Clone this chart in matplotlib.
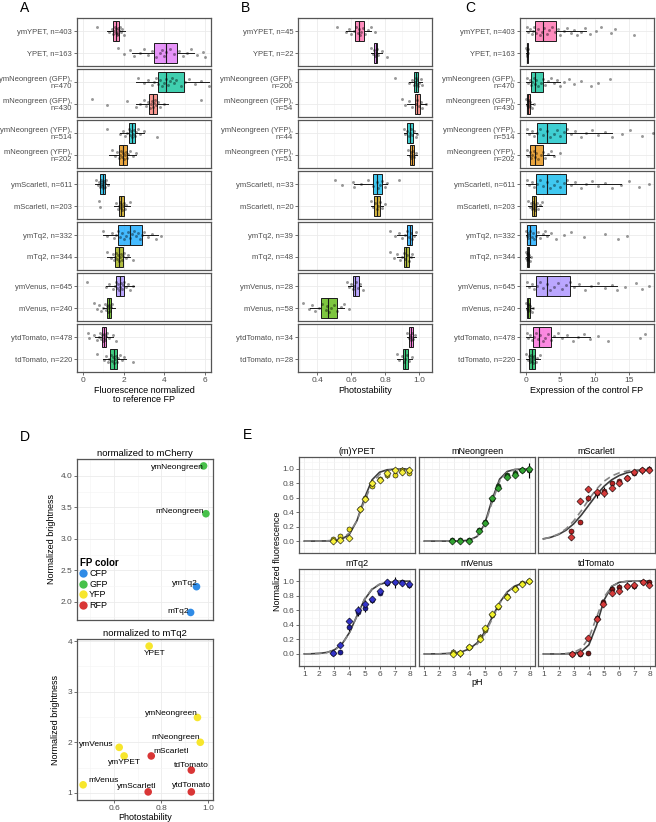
import matplotlib.pyplot as plt
import matplotlib.lines as mlines
from matplotlib.colors import to_rgba
import numpy as np

plt.rcParams['font.family'] = ['Liberation Sans', 'DejaVu Sans']

# ── Panels A-C: constructs, top to bottom ───────────────────────────────────
names = ['ymYPET', 'YPET', 'ymNeongreen (GFP)', 'mNeongreen (GFP)',
         'ymNeongreen (YFP)', 'mNeongreen (YFP)', 'ymScarletI', 'mScarletI',
         'ymTq2', 'mTq2', 'ymVenus', 'mVenus', 'ytdTomato', 'tdTomato']
n_cells_a = [403, 163, 470, 430, 514, 202, 611, 203, 332, 344, 645, 240, 478, 220]
n_cells_b = [45, 22, 206, 54, 44, 51, 33, 20, 39, 48, 28, 58, 34, 28]
n_cells_c = [403, 163, 470, 430, 514, 202, 611, 203, 332, 344, 645, 240, 478, 220]

# A: fluorescence normalized to reference FP (whislo, q1, med, q3, whishi)
a_whislo = [1.2, 2.4, 2.6, 2.6, 1.8, 1.3, 0.6, 1.5, 1.0, 1.2, 1.15, 1.0, 0.6, 1.0]
a_q1 = [1.47, 3.49, 3.70, 3.24, 2.25, 1.78, 0.84, 1.77, 1.70, 1.55, 1.60, 1.20, 0.93, 1.34]
a_med = [1.64, 4.07, 4.10, 3.44, 2.41, 1.97, 0.96, 1.88, 2.33, 1.75, 1.80, 1.29, 1.03, 1.50]
a_q3 = [1.78, 4.61, 4.97, 3.65, 2.58, 2.17, 1.09, 2.00, 2.91, 1.95, 2.03, 1.37, 1.14, 1.69]
a_whishi = [2.05, 5.45, 6.2, 4.2, 3.0, 2.6, 1.3, 2.3, 3.7, 2.3, 2.5, 1.55, 1.45, 2.1]
a_points = [
    [0.68, 1.3, 1.4, 1.45, 1.5, 1.55, 1.6, 1.62, 1.65, 1.68, 1.7, 1.72, 1.75, 1.8, 1.85, 1.9, 2.0],
    [1.7, 2.0, 2.3, 2.5, 2.8, 3.0, 3.2, 3.4, 3.6, 3.8, 3.9, 4.0, 4.1, 4.3, 4.5, 4.7, 4.9, 5.1, 5.3, 5.6, 5.9, 6.0],
    [2.7, 3.0, 3.2, 3.4, 3.5, 3.6, 3.7, 3.8, 3.9, 4.0, 4.1, 4.2, 4.3, 4.4, 4.5, 4.6, 4.8, 5.0, 5.2, 5.5, 5.8, 6.2],
    [0.43, 1.17, 2.17, 2.6, 2.8, 3.0, 3.1, 3.2, 3.3, 3.35, 3.4, 3.45, 3.5, 3.55, 3.6, 3.7, 3.8, 4.0, 5.8],
    [1.17, 1.8, 1.95, 2.05, 2.15, 2.25, 2.3, 2.35, 2.4, 2.45, 2.5, 2.55, 2.6, 2.7, 2.8, 3.0, 3.65],
    [1.4, 1.55, 1.65, 1.75, 1.8, 1.85, 1.9, 1.95, 2.0, 2.05, 2.1, 2.15, 2.2, 2.3, 2.45, 2.6],
    [0.65, 0.75, 0.8, 0.85, 0.88, 0.9, 0.93, 0.95, 0.98, 1.0, 1.03, 1.06, 1.1, 1.15, 1.25],
    [0.76, 0.84, 1.6, 1.7, 1.75, 1.8, 1.85, 1.88, 1.9, 1.95, 2.0, 2.05, 2.1, 2.33],
    [1.0, 1.2, 1.4, 1.5, 1.6, 1.7, 1.8, 1.9, 2.0, 2.1, 2.2, 2.3, 2.4, 2.5, 2.6, 2.7, 2.8, 2.9, 3.0, 3.2, 3.4, 3.6, 3.85],
    [1.2, 1.35, 1.45, 1.5, 1.55, 1.6, 1.65, 1.7, 1.75, 1.8, 1.85, 1.9, 1.95, 2.0, 2.1, 2.2, 2.45],
    [0.18, 1.15, 1.3, 1.45, 1.55, 1.6, 1.65, 1.7, 1.75, 1.8, 1.85, 1.9, 1.95, 2.0, 2.1, 2.2, 2.3, 2.45],
    [0.55, 0.7, 0.8, 0.9, 1.0, 1.1, 1.15, 1.2, 1.25, 1.28, 1.3, 1.33, 1.36, 1.4],
    [0.26, 0.3, 0.55, 0.7, 0.8, 0.85, 0.9, 0.95, 1.0, 1.02, 1.05, 1.1, 1.15, 1.2, 1.3, 1.45, 1.6],
    [0.68, 1.05, 1.15, 1.25, 1.3, 1.35, 1.4, 1.45, 1.5, 1.55, 1.6, 1.65, 1.7, 1.8, 1.9, 2.0, 2.45],
]

# B: photostability
b_whislo = [0.57, 0.72, 0.94, 0.93, 0.91, 0.93, 0.62, 0.72, 0.87, 0.87, 0.58, 0.36, 0.93, 0.87]
b_q1 = [0.625, 0.735, 0.970, 0.975, 0.930, 0.945, 0.728, 0.737, 0.930, 0.910, 0.610, 0.425, 0.940, 0.905]
b_med = [0.645, 0.745, 0.982, 0.990, 0.947, 0.960, 0.755, 0.752, 0.945, 0.923, 0.625, 0.465, 0.952, 0.918]
b_q3 = [0.675, 0.755, 0.995, 1.005, 0.965, 0.972, 0.782, 0.768, 0.960, 0.940, 0.645, 0.515, 0.965, 0.935]
b_whishi = [0.72, 0.78, 1.02, 1.04, 0.99, 0.99, 0.81, 0.79, 0.98, 0.97, 0.66, 0.56, 0.98, 0.96]
b_points = [
    [0.52, 0.57, 0.59, 0.6, 0.62, 0.63, 0.64, 0.645, 0.65, 0.66, 0.67, 0.68, 0.7, 0.72, 0.74],
    [0.72, 0.73, 0.735, 0.74, 0.745, 0.75, 0.76, 0.78, 0.81],
    [0.86, 0.94, 0.96, 0.97, 0.975, 0.98, 0.985, 0.99, 0.995, 1.0, 1.01, 1.02],
    [0.9, 0.92, 0.94, 0.96, 0.98, 0.99, 1.0, 1.01, 1.02, 1.04],
    [0.91, 0.92, 0.93, 0.94, 0.945, 0.95, 0.96, 0.97, 0.98, 0.99],
    [0.935, 0.945, 0.95, 0.955, 0.96, 0.965, 0.97, 0.98],
    [0.506, 0.545, 0.61, 0.62, 0.66, 0.7, 0.73, 0.75, 0.76, 0.77, 0.78, 0.8, 0.81, 0.884],
    [0.72, 0.73, 0.74, 0.75, 0.76, 0.77, 0.78, 0.8],
    [0.83, 0.86, 0.88, 0.9, 0.92, 0.93, 0.94, 0.95, 0.96, 0.97, 0.98],
    [0.83, 0.85, 0.87, 0.89, 0.9, 0.91, 0.92, 0.93, 0.94, 0.95, 0.96],
    [0.575, 0.59, 0.6, 0.61, 0.62, 0.63, 0.64, 0.65, 0.67],
    [0.32, 0.35, 0.37, 0.39, 0.41, 0.43, 0.45, 0.46, 0.47, 0.48, 0.5, 0.52, 0.54, 0.56, 0.59],
    [0.93, 0.94, 0.945, 0.95, 0.955, 0.96, 0.965, 0.975],
    [0.87, 0.88, 0.9, 0.91, 0.92, 0.93, 0.94, 0.96],
]

# C: expression of the control FP
c_whislo = [0.0, 0.05, 0.0, 0.0, 0.0, 0.0, 0.0, 0.2, 0.0, 0.0, 0.0, 0.0, 0.0, 0.0]
c_q1 = [1.35, 0.10, 0.70, 0.15, 1.60, 0.60, 1.40, 0.80, 0.10, 0.10, 1.50, 0.15, 1.00, 0.40]
c_med = [2.45, 0.15, 1.35, 0.30, 3.10, 1.35, 3.00, 1.10, 0.60, 0.20, 3.10, 0.30, 1.85, 0.80]
c_q3 = [4.30, 0.20, 2.45, 0.50, 5.85, 2.45, 5.85, 1.45, 1.45, 0.35, 6.40, 0.50, 3.65, 1.30]
c_whishi = [8.7, 0.25, 5.0, 1.0, 12.6, 4.0, 13.8, 2.3, 3.3, 0.6, 13.3, 1.0, 9.4, 2.0]
c_points = [
    [0.1, 0.3, 0.5, 0.8, 1.0, 1.2, 1.5, 1.8, 2.0, 2.3, 2.6, 3.0, 3.4, 3.8, 4.2, 4.6, 5.0, 5.5, 6.0, 6.5, 7.0, 7.5, 8.0, 8.6, 9.3, 10.2, 11.0, 12.4, 13.0, 15.8],
    [0.05, 0.1, 0.12, 0.15, 0.2, 0.25],
    [0.1, 0.3, 0.5, 0.7, 0.9, 1.1, 1.3, 1.5, 1.8, 2.1, 2.4, 2.8, 3.2, 3.6, 4.0, 4.5, 5.0, 5.6, 6.3, 7.0, 8.0, 9.5, 10.5, 12.3],
    [0.0, 0.1, 0.2, 0.3, 0.35, 0.4, 0.5, 0.6, 0.8, 1.2],
    [0.1, 0.4, 0.8, 1.2, 1.6, 2.0, 2.5, 3.0, 3.5, 4.0, 4.5, 5.0, 5.5, 6.0, 6.6, 7.2, 8.0, 8.8, 9.6, 10.5, 11.5, 12.6, 14.0, 15.2, 17.0, 18.5],
    [0.1, 0.3, 0.5, 0.7, 0.9, 1.1, 1.3, 1.5, 1.8, 2.1, 2.4, 2.8, 3.2, 3.6, 4.0, 4.9],
    [0.1, 0.4, 0.8, 1.2, 1.6, 2.0, 2.5, 3.0, 3.5, 4.0, 4.5, 5.0, 5.5, 6.0, 6.6, 7.2, 8.0, 8.8, 9.6, 10.5, 11.5, 12.5, 13.8, 15.0, 16.5, 17.9],
    [0.2, 0.5, 0.7, 0.8, 0.9, 1.0, 1.1, 1.2, 1.3, 1.4, 1.6, 1.8, 2.0, 2.3],
    [0.0, 0.1, 0.2, 0.3, 0.45, 0.6, 0.8, 1.0, 1.2, 1.4, 1.7, 2.0, 2.4, 2.8, 3.1, 3.6, 4.3, 5.5, 6.5, 8.5, 11.5, 13.5, 14.8],
    [0.0, 0.05, 0.1, 0.15, 0.2, 0.25, 0.3, 0.4, 0.5, 0.7],
    [0.1, 0.4, 0.8, 1.2, 1.6, 2.0, 2.5, 3.0, 3.5, 4.0, 4.6, 5.2, 5.8, 6.4, 7.0, 7.8, 8.6, 9.5, 10.5, 11.5, 12.5, 13.3, 14.5, 16.0, 17.0, 18.0],
    [0.0, 0.1, 0.2, 0.3, 0.35, 0.4, 0.5, 0.6, 0.8, 1.0],
    [0.1, 0.3, 0.6, 0.9, 1.1, 1.4, 1.7, 2.0, 2.4, 2.8, 3.2, 3.6, 4.1, 4.7, 5.3, 6.0, 6.8, 7.6, 8.5, 9.4, 10.5, 12.0, 16.6, 17.4],
    [0.05, 0.2, 0.35, 0.5, 0.6, 0.7, 0.8, 0.9, 1.0, 1.1, 1.2, 1.4, 1.6, 2.0],
]

fill_colors = ['#FF66A8', '#DF70F8', '#00C094', '#F8766D', '#00BFC4', '#E38900', '#00B6EB',
               '#C49A00', '#06A4FF', '#99A800', '#A58AFF', '#53B400', '#FB61D7', '#00BC56']

# ── Panel D ──────────────────────────────────────────────────────────────────
d1_names = ['ymNeongreen', 'mNeongreen', 'ymTq2', 'mTq2']
d1_photostability = [0.98, 0.99, 0.95, 0.925]
d1_brightness = [4.16, 3.40, 2.24, 1.83]
d1_fp = ['GFP', 'GFP', 'CFP', 'CFP']

d2_names = ['YPET', 'ymNeongreen', 'mNeongreen', 'ymVenus', 'ymYPET', 'mScarletI',
            'tdTomato', 'mVenus', 'ymScarletI', 'ytdTomato']
d2_photostability = [0.749, 0.954, 0.966, 0.622, 0.643, 0.758, 0.928, 0.469, 0.745, 0.928]
d2_brightness = [3.90, 2.49, 2.00, 1.90, 1.73, 1.73, 1.45, 1.16, 1.02, 1.02]
d2_fp = ['YFP', 'YFP', 'YFP', 'YFP', 'YFP', 'RFP', 'RFP', 'YFP', 'RFP', 'RFP']

fp_levels = ['CFP', 'GFP', 'YFP', 'RFP']
fp_colors = {'CFP': '#2F8BE6', 'GFP': '#47C14A', 'YFP': '#F7E62C', 'RFP': '#D93636'}

# label placement (px offset, alignment)
d1_label_style = [(0, -2, 'right'), (-2, 2, 'right'), (1, 3, 'right'), (-2, 1, 'right')]
d2_label_style = [(6, -7, 'center'), (0, 4, 'right'), (0, 5, 'right'), (-6, 3, 'right'),
                  (0, -7, 'center'), (2, 4, 'left'), (0, 5, 'center'), (5, 4, 'left'),
                  (-11, 5, 'center'), (0, 6, 'center')]

# ── Panel E: pH titrations ───────────────────────────────────────────────────
e_titles = ['(m)YPET', 'mNeongreen', 'mScarletI', 'mTq2', 'mVenus', 'tdTomato']
ph_grid = [1.0, 1.5, 2.0, 2.5, 3.0, 3.5, 4.0, 4.5, 5.0, 5.5, 6.0, 6.5, 7.0, 7.5, 8.0]
fit_solid = [
    [0.000, 0.000, 0.001, 0.002, 0.007, 0.027, 0.095, 0.285, 0.597, 0.849, 0.954, 0.988, 0.997, 0.999, 1.000],
    [0.000, 0.000, 0.000, 0.000, 0.001, 0.003, 0.015, 0.063, 0.232, 0.574, 0.858, 0.964, 0.992, 0.998, 1.000],
    [0.031, 0.053, 0.091, 0.151, 0.240, 0.360, 0.500, 0.640, 0.760, 0.849, 0.909, 0.947, 0.969, 0.982, 0.990],
    [0.001, 0.003, 0.008, 0.021, 0.056, 0.135, 0.294, 0.523, 0.747, 0.886, 0.954, 0.982, 0.993, 0.997, 0.999],
    [0.000, 0.001, 0.002, 0.006, 0.013, 0.031, 0.070, 0.151, 0.297, 0.500, 0.703, 0.849, 0.930, 0.969, 0.987],
    [0.000, 0.000, 0.000, 0.002, 0.007, 0.031, 0.125, 0.390, 0.740, 0.927, 0.983, 0.996, 0.999, 1.000, 1.000],
]
fit_dashed = [
    [0.000, 0.000, 0.001, 0.004, 0.012, 0.038, 0.112, 0.285, 0.557, 0.799, 0.926, 0.975, 0.992, 0.997, 0.999],
    [0.000, 0.000, 0.000, 0.000, 0.001, 0.004, 0.015, 0.061, 0.216, 0.535, 0.830, 0.953, 0.989, 0.997, 0.999],
    [0.030, 0.054, 0.098, 0.170, 0.280, 0.420, 0.580, 0.720, 0.830, 0.902, 0.946, 0.970, 0.984, 0.991, 0.995],
    [0.001, 0.002, 0.007, 0.019, 0.052, 0.130, 0.290, 0.525, 0.755, 0.893, 0.958, 0.984, 0.994, 0.998, 0.999],
    [0.000, 0.001, 0.002, 0.004, 0.010, 0.025, 0.058, 0.132, 0.271, 0.477, 0.691, 0.846, 0.931, 0.971, 0.988],
    [0.000, 0.001, 0.002, 0.006, 0.022, 0.074, 0.220, 0.500, 0.780, 0.926, 0.978, 0.994, 0.998, 0.999, 1.000],
]
e_ph = [
    [2.9, 3.4, 3.95, 4.7, 5.0, 5.5, 6.0, 6.5, 7.0, 7.5, 7.95],
    [2.85, 3.35, 3.95, 4.65, 5.0, 5.5, 5.9, 6.5, 7.0, 7.5, 7.95],
    [2.85, 3.4, 3.95, 4.5, 5.0, 5.5, 6.0, 6.5, 7.0, 7.5, 7.95],
    [2.9, 3.4, 3.95, 4.55, 5.0, 5.5, 6.0, 6.5, 7.0, 7.5, 7.95],
    [2.9, 3.4, 3.95, 4.7, 5.0, 5.5, 5.9, 6.5, 7.0, 7.5, 7.95],
    [2.9, 3.4, 3.95, 4.55, 4.95, 5.5, 5.95, 6.5, 7.0, 7.55, 7.95],
]
e_val_1 = [
    [0.03, 0.07, 0.17, 0.44, 0.60, 0.77, 0.86, 0.92, 0.92, 0.99, 0.95],
    [0.01, 0.01, 0.01, 0.15, 0.26, 0.58, 0.77, 0.92, 0.95, 0.99, 0.98],
    [0.14, 0.27, 0.60, 0.66, 0.70, 0.80, 0.83, 0.88, 0.95, 0.98, 1.00],
    [0.02, 0.03, 0.37, 0.57, 0.63, 0.74, 0.84, 0.97, 0.98, 0.98, 0.95],
    [0.03, 0.01, 0.09, 0.23, 0.33, 0.54, 0.65, 0.80, 0.90, 0.97, 1.00],
    [0.00, 0.00, 0.01, 0.50, 0.71, 0.89, 0.92, 0.93, 0.93, 0.99, 0.98],
]
e_err_1 = [
    [0.03, 0.03, 0.02, 0.03, 0.02, 0.03, 0.03, 0.04, 0.03, 0.03, 0.04],
    [0.02, 0.02, 0.02, 0.02, 0.03, 0.03, 0.04, 0.03, 0.03, 0.03, 0.10],
    [0.03, 0.02, 0.04, 0.06, 0.05, 0.03, 0.03, 0.03, 0.04, 0.05, 0.04],
    [0.02, 0.03, 0.05, 0.05, 0.06, 0.04, 0.03, 0.04, 0.08, 0.04, 0.05],
    [0.04, 0.04, 0.02, 0.05, 0.03, 0.03, 0.03, 0.03, 0.02, 0.02, 0.02],
    [0.02, 0.02, 0.02, 0.03, 0.03, 0.04, 0.04, 0.05, 0.04, 0.03, 0.03],
]
e_val_2 = [
    [0.00, 0.01, 0.04, 0.45, 0.58, 0.80, 0.84, 0.95, 0.98, 0.96, 0.99],
    [0.00, 0.00, 0.00, 0.14, 0.25, 0.60, 0.74, 0.89, 0.92, 0.98, 1.00],
    [0.05, 0.55, 0.72, 0.68, 0.66, 0.73, 0.80, 0.87, 0.96, 0.99, 0.99],
    [0.02, 0.12, 0.45, 0.60, 0.69, 0.76, 0.86, 0.99, 0.99, 0.97, 0.96],
    [0.00, 0.01, 0.10, 0.21, 0.35, 0.55, 0.66, 0.78, 0.89, 0.96, 1.00],
    [0.00, 0.01, 0.22, 0.48, 0.69, 0.83, 0.87, 0.93, 0.94, 0.99, 0.95],
]
e_err_2 = [
    [0.02, 0.02, 0.02, 0.02, 0.02, 0.03, 0.02, 0.03, 0.03, 0.05, 0.04],
    [0.02, 0.02, 0.02, 0.03, 0.03, 0.04, 0.03, 0.03, 0.03, 0.04, 0.04],
    [0.04, 0.03, 0.03, 0.04, 0.05, 0.04, 0.03, 0.03, 0.03, 0.04, 0.03],
    [0.02, 0.03, 0.04, 0.06, 0.05, 0.04, 0.03, 0.03, 0.03, 0.04, 0.04],
    [0.02, 0.05, 0.02, 0.04, 0.03, 0.03, 0.03, 0.04, 0.03, 0.02, 0.02],
    [0.02, 0.02, 0.03, 0.03, 0.03, 0.04, 0.05, 0.04, 0.04, 0.03, 0.03],
]
e_color_1 = ['#E6DC1E', '#1E6E1E', '#B32222', '#1F1F9E', '#BDBD22', '#7A1515']
e_color_2 = ['#F7F03C', '#31A331', '#D63A3A', '#3333C8', '#F2F22A', '#D63A3A']

W, H = 656, 822
fig = plt.figure(figsize=(W / 100, H / 100), dpi=100)

FRAME = '#555555'
GRID = '#EBEBEB'
GRID_MINOR = '#F4F4F4'
TICK_TXT = '#4D4D4D'


def px_axes(x0, y0, x1, y1):
    return fig.add_axes([x0 / W, 1 - y1 / H, (x1 - x0) / W, (y1 - y0) / H])


def style_axes(ax):
    ax.set_axisbelow(True)
    ax.grid(which='major', color=GRID, lw=0.6)
    ax.grid(which='minor', color=GRID_MINOR, lw=0.4)
    for s in ax.spines.values():
        s.set_color(FRAME)
        s.set_linewidth(0.9)
    ax.tick_params(which='major', length=2, width=0.6, color=FRAME,
                   labelsize=6, labelcolor=TICK_TXT, pad=1.5)
    ax.tick_params(which='minor', length=0)


def facet_panel(x0, x1, n_cells, whislo, q1, med, q3, whishi, points,
                xlim, major, major_labels, minor):
    for i in range(7):
        top = 18 + 51 * i
        ax = px_axes(x0, top, x1, top + 48)
        rows = [2 * i, 2 * i + 1]
        stats = [dict(whislo=whislo[r], q1=q1[r], med=med[r], q3=q3[r], whishi=whishi[r])
                 for r in rows]
        bp = ax.bxp(stats, positions=[1, 2], orientation='horizontal', widths=0.9,
                    patch_artist=True, showfliers=False, showcaps=False,
                    boxprops=dict(edgecolor='#1a1a1a', linewidth=0.7),
                    medianprops=dict(color='#1a1a1a', linewidth=0.8),
                    whiskerprops=dict(color='#1a1a1a', linewidth=0.7))
        for patch, r in zip(bp['boxes'], rows):
            patch.set_facecolor(to_rgba(fill_colors[r], 0.75))
        for pos, r in zip([1, 2], rows):
            vals = np.array(points[r])
            jit = ((np.arange(len(vals)) * 0.618034) % 1.0 - 0.5) * 0.42
            ax.scatter(vals, pos + jit, s=4.5, color='black', alpha=0.4,
                       linewidths=0, zorder=4)
        labels = []
        for r in rows:
            if '(' in names[r]:
                labels.append(f'{names[r]},\nn={n_cells[r]}')
            else:
                labels.append(f'{names[r]}, n={n_cells[r]}')
        ax.set_ylim(2.6, 0.4)
        ax.set_yticks([1, 2])
        ax.set_yticklabels(labels, fontsize=5.5, linespacing=0.95)
        ax.set_xlim(*xlim)
        ax.set_xticks(major)
        ax.set_xticks(minor, minor=True)
        style_axes(ax)
        ax.tick_params(axis='y', labelsize=5.5)
        if i < 6:
            ax.tick_params(axis='x', which='both', length=0, labelbottom=False)
        else:
            ax.set_xticklabels(major_labels)
    return ax


# ── A / B / C ────────────────────────────────────────────────────────────────
facet_panel(77, 211, n_cells_a, a_whislo, a_q1, a_med, a_q3, a_whishi, a_points,
            (-0.3, 6.3), [0, 2, 4, 6], ['0', '2', '4', '6'], [1, 3, 5])
facet_panel(298, 432, n_cells_b, b_whislo, b_q1, b_med, b_q3, b_whishi, b_points,
            (0.288, 1.076), [0.4, 0.6, 0.8, 1.0], ['0.4', '0.6', '0.8', '1.0'], [0.3, 0.5, 0.7, 0.9])
facet_panel(520, 654, n_cells_c, c_whislo, c_q1, c_med, c_q3, c_whishi, c_points,
            (-0.9, 18.7), [0, 5, 10, 15], ['0', '5', '10', '15'], [2.5, 7.5, 12.5, 17.5])

fig.text(144 / W, 1 - 395 / H, 'Fluorescence normalized\nto reference FP',
         ha='center', va='center', fontsize=6.5, linespacing=1.1)
fig.text(365 / W, 1 - 390 / H, 'Photostability', ha='center', va='center', fontsize=6.5)
fig.text(587 / W, 1 - 390 / H, 'Expression of the control FP', ha='center', va='center', fontsize=6.5)

for letter, x, y in [('A', 25, 8), ('B', 246, 8), ('C', 470, 8), ('D', 25, 437), ('E', 247, 435)]:
    fig.text(x / W, 1 - y / H, letter, ha='center', va='center', fontsize=10)

# ── D ────────────────────────────────────────────────────────────────────────
ax_d1 = px_axes(77, 459, 213, 620)
ax_d1.scatter(d1_photostability, d1_brightness, s=30, c=[fp_colors[f] for f in d1_fp],
              linewidths=0, zorder=3)
for name, x, y, (dx, dy, ha) in zip(d1_names, d1_photostability, d1_brightness, d1_label_style):
    ax_d1.annotate(name, (x, y), xytext=(dx * 0.72, dy * 0.72), textcoords='offset points',
                   ha=ha, va='center', fontsize=6, zorder=4)
ax_d1.set_xlim(0.443, 1.02)
ax_d1.set_ylim(1.71, 4.27)
ax_d1.set_xticks([0.6, 0.8, 1.0])
ax_d1.set_xticks([0.5, 0.7, 0.9], minor=True)
ax_d1.set_yticks([2.0, 2.5, 3.0, 3.5, 4.0])
ax_d1.set_yticklabels(['2.0', '2.5', '3.0', '3.5', '4.0'])
ax_d1.set_yticks([1.75, 2.25, 2.75, 3.25, 3.75, 4.25], minor=True)
style_axes(ax_d1)
ax_d1.tick_params(axis='x', which='both', length=0, labelbottom=False)
ax_d1.set_title('normalized to mCherry', fontsize=6.8, pad=2.5)
ax_d1.set_ylabel('Normalized brightness', fontsize=6.5, labelpad=3)

handles = [mlines.Line2D([], [], ls='none', marker='o', markersize=6,
                         markerfacecolor=fp_colors[f], markeredgewidth=0) for f in fp_levels]
leg = ax_d1.legend(handles, fp_levels, title='FP color', loc='upper left',
                   bbox_to_anchor=(0.0, 0.405), frameon=False, fontsize=6.5,
                   title_fontsize=7, handlelength=0.8, handletextpad=0.25,
                   labelspacing=0.18, borderpad=0.1, borderaxespad=0.2)
leg.get_title().set_fontweight('bold')
leg._legend_box.align = 'left'

ax_d2 = px_axes(77, 639, 213, 800)
ax_d2.scatter(d2_photostability, d2_brightness, s=30, c=[fp_colors[f] for f in d2_fp],
              linewidths=0, zorder=3)
for name, x, y, (dx, dy, ha) in zip(d2_names, d2_photostability, d2_brightness, d2_label_style):
    ax_d2.annotate(name, (x, y), xytext=(dx * 0.72, dy * 0.72), textcoords='offset points',
                   ha=ha, va='center', fontsize=6, zorder=4)
ax_d2.set_xlim(0.443, 1.02)
ax_d2.set_ylim(0.86, 4.04)
ax_d2.set_xticks([0.6, 0.8, 1.0])
ax_d2.set_xticklabels(['0.6', '0.8', '1.0'])
ax_d2.set_xticks([0.5, 0.7, 0.9], minor=True)
ax_d2.set_yticks([1, 2, 3, 4])
ax_d2.set_yticks([1.5, 2.5, 3.5], minor=True)
style_axes(ax_d2)
ax_d2.set_title('normalized to mTq2', fontsize=6.8, pad=2.5)
ax_d2.set_ylabel('Normalized brightness', fontsize=6.5, labelpad=5)
ax_d2.set_xlabel('Photostability', fontsize=6.5, labelpad=1)

# ── E ────────────────────────────────────────────────────────────────────────
e_cols = [(299, 415), (419, 535), (538, 655)]
e_rows = [(457, 553), (569, 666)]
for k in range(6):
    r, c = divmod(k, 3)
    ax = px_axes(e_cols[c][0], e_rows[r][0], e_cols[c][1], e_rows[r][1])
    ax.plot(ph_grid, fit_solid[k], color='#3d3d3d', lw=1.2, zorder=2)
    ax.plot(ph_grid, fit_dashed[k], color='#858585', lw=1.2, dashes=(4, 2.5), zorder=2)
    ax.errorbar(e_ph[k], e_val_1[k], yerr=e_err_1[k], fmt='none', ecolor='black',
                elinewidth=0.8, capsize=0, zorder=3)
    ax.errorbar(e_ph[k], e_val_2[k], yerr=e_err_2[k], fmt='none', ecolor='black',
                elinewidth=0.8, capsize=0, zorder=3)
    ax.scatter(e_ph[k], e_val_1[k], s=13, marker='o', color=e_color_1[k],
               edgecolors='black', linewidths=0.4, zorder=4)
    ax.scatter(e_ph[k], e_val_2[k], s=13, marker='D', color=e_color_2[k],
               edgecolors='black', linewidths=0.4, zorder=4)
    ax.set_xlim(0.65, 8.35)
    ax.set_ylim(-0.165, 1.165)
    ax.set_xticks(range(1, 9))
    ax.set_xticks(np.arange(1.5, 8, 1.0), minor=True)
    ax.set_yticks([0.0, 0.2, 0.4, 0.6, 0.8, 1.0])
    ax.set_yticklabels(['0.0', '0.2', '0.4', '0.6', '0.8', '1.0'])
    ax.set_yticks([-0.1, 0.1, 0.3, 0.5, 0.7, 0.9, 1.1], minor=True)
    style_axes(ax)
    ax.set_title(e_titles[k], fontsize=6.5, pad=2.5)
    if r == 0:
        ax.tick_params(axis='x', which='both', length=0, labelbottom=False)
    if c > 0:
        ax.tick_params(axis='y', which='both', length=0, labelleft=False)

fig.text(278 / W, 1 - 561 / H, 'Normalized fluorescence', rotation=90,
         ha='center', va='center', fontsize=6.5)
fig.text(477 / W, 1 - 682 / H, 'pH', ha='center', va='center', fontsize=6.5)

fig.savefig('out.png', dpi=100)
